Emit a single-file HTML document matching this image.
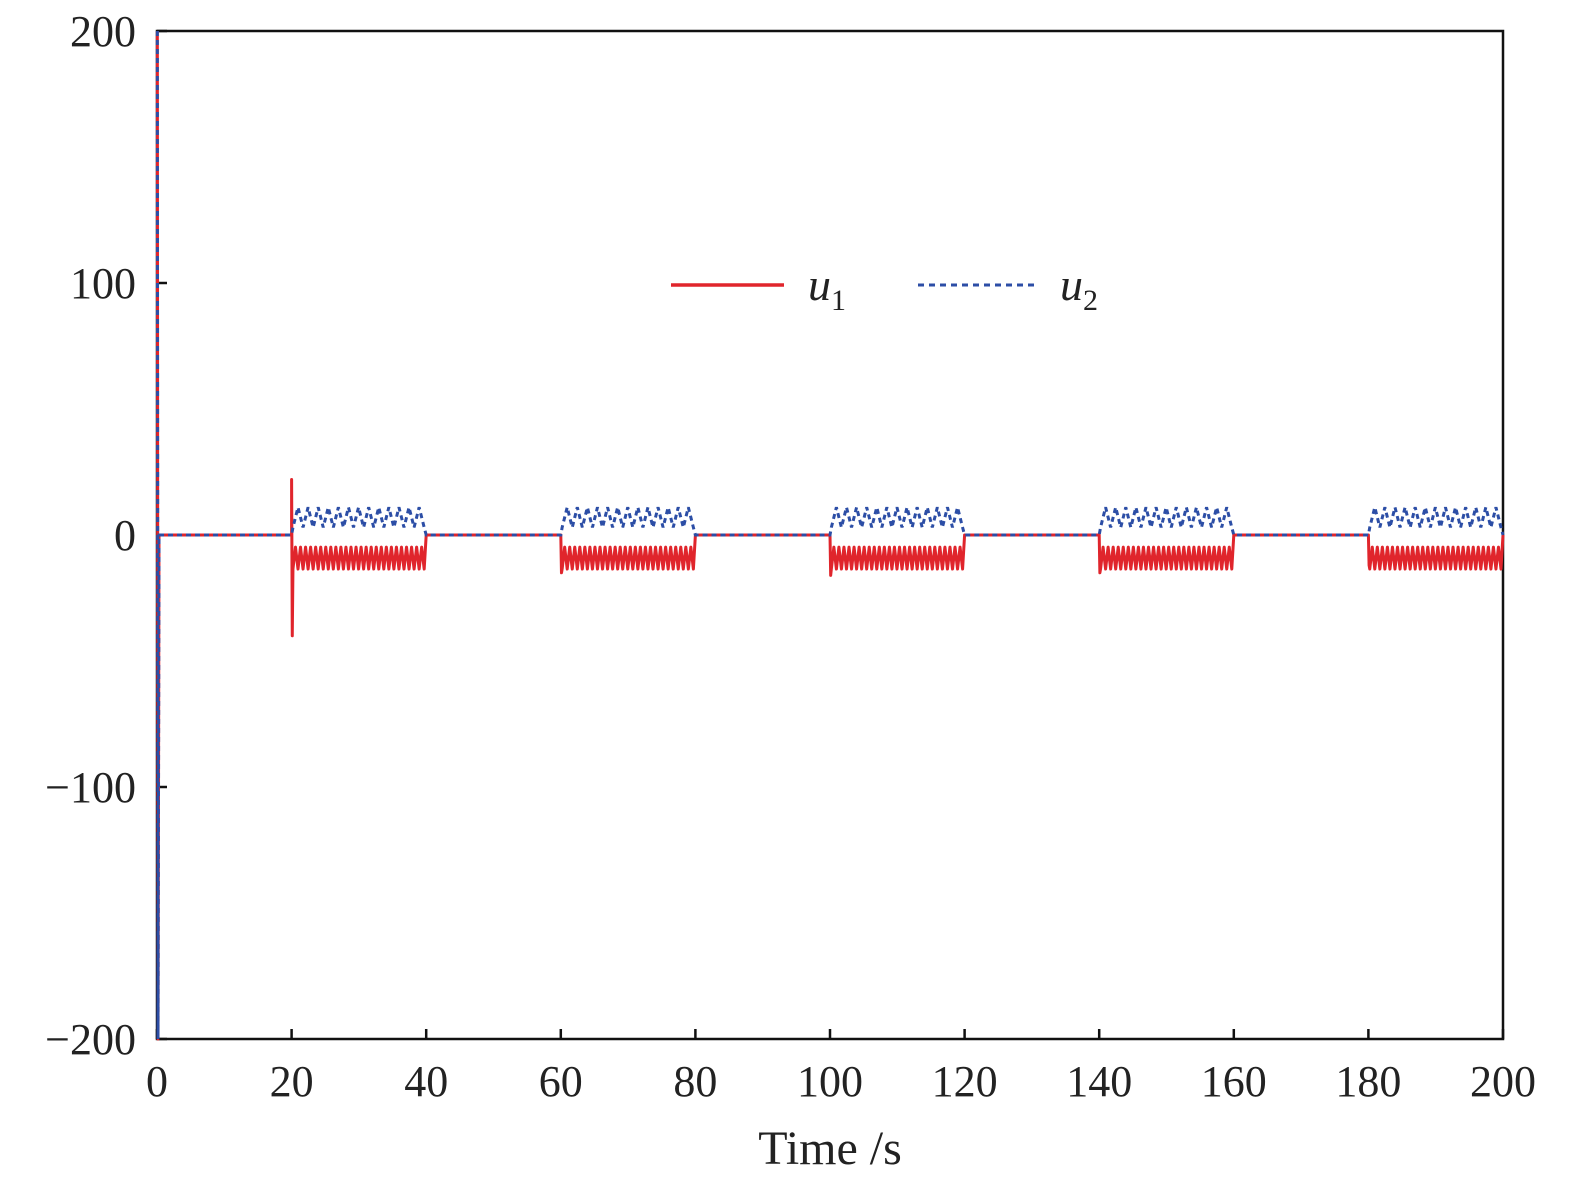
<!DOCTYPE html>
<html><head><meta charset="utf-8"><style>
html,body{margin:0;padding:0;background:#fff;}
svg text{font-family:"Liberation Serif",serif;fill:#222;}
</style></head><body>
<svg id="chart" width="1575" height="1183" xmlns="http://www.w3.org/2000/svg">
<g id="axes"></g>
<g id="series"></g>
<g id="legend">
  <line x1="671" y1="285" x2="784" y2="285" stroke="#e0252c" stroke-width="3.5"/>
  <text x="808" y="300" font-size="46" font-style="italic">u<tspan font-size="30" font-style="normal" dy="10">1</tspan></text>
  <line x1="918" y1="285" x2="1034" y2="285" stroke="#2c4ea6" stroke-width="3" stroke-dasharray="6 5"/>
  <text x="1060" y="300" font-size="46" font-style="italic">u<tspan font-size="30" font-style="normal" dy="10">2</tspan></text>
</g>
</svg>
<script>
const xTicks=[0,20,40,60,80,100,120,140,160,180,200];
const yTicks=[-200,-100,0,100,200];
const yTickLabels=["\u2212200","\u2212100","0","100","200"];
const segStart=[20,60,100,140,180];
const segEnd=[40,80,120,160,200];
const u1Hi=[-4.8,-4.8,-4.8,-4.8,-4.8];
const u1Lo=[-13.5,-13.5,-13.5,-13.5,-13.5];
const u2Hi=[11,11,11,11,11];
const u2Lo=[3,3,3,3,3];
const u1SpikeHi=[22,0,0,0,0];
const u1SpikeLo=[-40,-15,-16,-15,-12];
const chatterPeriod=0.75;
const initialU1=[200,-200,0];
const initialU2=[200,-200,0];

const X0=157,X1=1503,Y0=1039,Y1=31;
const sx=v=>X0+(v-0)/(200-0)*(X1-X0);
const sy=v=>Y0-(v+200)/400*(Y0-Y1);
const NS="http://www.w3.org/2000/svg";
function mk(tag,attrs,parent){const e=document.createElementNS(NS,tag);for(const k in attrs)e.setAttribute(k,attrs[k]);parent.appendChild(e);return e;}
const axes=document.getElementById('axes');
const series=document.getElementById('series');

// frame
const fr=mk('rect',{x:X0,y:Y1,width:X1-X0,height:Y0-Y1,fill:'none',stroke:'#111','stroke-width':2.5},axes);


xTicks.forEach(t=>{
  const l=mk('line',{x1:sx(t),x2:sx(t),y1:Y0,y2:Y0-10,stroke:'#111','stroke-width':2.5},axes);
  
  
  const tx=mk('text',{x:sx(t),y:1096,'font-size':44,'text-anchor':'middle'},axes);
  tx.textContent=t;
  
  
});
yTicks.forEach((t,i)=>{
  const l=mk('line',{x1:X0,x2:X0+10,y1:sy(t),y2:sy(t),stroke:'#111','stroke-width':2.5},axes);
  
  
  const tx=mk('text',{x:136,y:sy(t)+15,'font-size':44,'text-anchor':'end'},axes);
  tx.textContent=yTickLabels[i];
  
  
});
const xl=mk('text',{x:830,y:1164,'font-size':48,'text-anchor':'middle'},axes);
xl.textContent='Time /s';



function buildPath(hi,lo,spHi,spLo,init,period){
  let d='M'+sx(0.05)+','+sy(init[0])+' L'+sx(0.15)+','+sy(init[1])+' L'+sx(0.3)+','+sy(init[2]);
  let prev=0.3;
  for(let i=0;i<segStart.length;i++){
    d+=' L'+sx(segStart[i])+','+sy(0);
    if(spHi) d+=' L'+sx(segStart[i])+','+sy(spHi[i])+' L'+sx(segStart[i]+0.1)+','+sy(spLo[i]);
    let t=segStart[i]+0.2,k=0;
    while(t<segEnd[i]-0.2){
      d+=' L'+sx(t)+','+sy(k%2?hi[i]:lo[i]);
      t+=period/2;k++;
    }
    d+=' L'+sx(segEnd[i])+','+sy(0);
  }
  d+=' L'+sx(200)+','+sy(0);
  return d;
}
const p1=mk('path',{d:buildPath(u1Hi,u1Lo,u1SpikeHi,u1SpikeLo,initialU1,chatterPeriod),fill:'none',stroke:'#e0252c','stroke-width':3,'stroke-linejoin':'round'},series);


const p2=mk('path',{d:buildPath(u2Hi,u2Lo,null,null,initialU2,chatterPeriod*2),fill:'none',stroke:'#2c4ea6','stroke-width':3,'stroke-dasharray':'5 4'},series);


</script>
</body></html>
